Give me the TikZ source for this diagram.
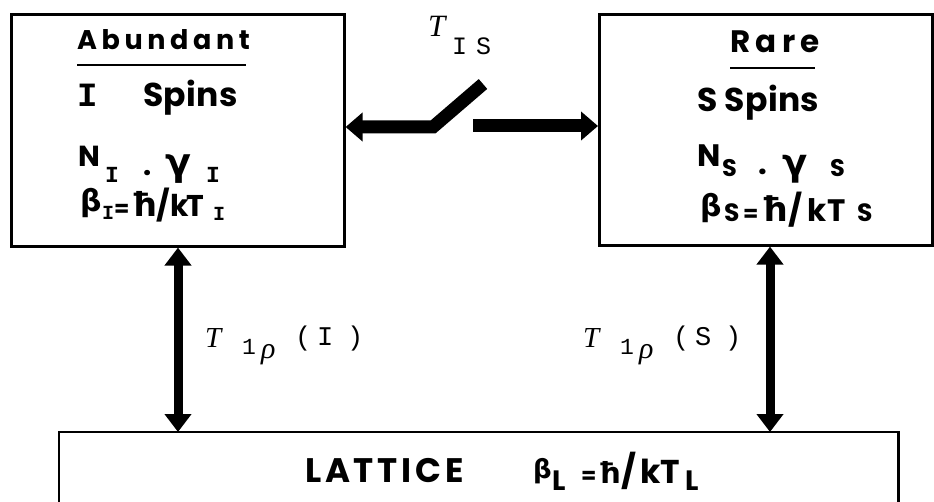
\documentclass[tikz,border=0pt]{standalone}
\usepackage{fontspec}
\newfontfamily\pW[LetterSpace=17]{Poppins}
\newfontfamily\pL[LetterSpace=11]{Poppins}
\newfontfamily\pM[LetterSpace=1]{Poppins}
\newfontfamily\pN{Poppins}
\newfontfamily\grkfont{DejaVu Sans}
\newfontfamily\ttm{Liberation Mono}
\newfontfamily\lsi{Liberation Serif}[UprightFont=* Italic]
\usetikzlibrary{arrows.meta}
\newcommand{\fsz}[1]{\fontsize{#1}{#1}\selectfont}
\newcommand{\gb}{\raisebox{0.19em}{\grkfont β}}
\newcommand{\hb}{{\grkfont ħ}}
\newcommand{\mb}[2]{\makebox[#1pt][l]{#2}}
\begin{document}
\begin{tikzpicture}[x=1pt,y=-1pt,
  box/.style={draw, line width=2.6pt, inner sep=0pt, anchor=north west},
  txt/.style={anchor=base west, inner sep=0pt},
  btxt/.style={anchor=base west, inner sep=0pt, font=\bfseries #1},
  uline/.style={line width=2.4pt},
  dbl/.style={line width=9pt, {Triangle[width=26pt,length=18pt]}-{Triangle[width=26pt,length=18pt]}},
  harr/.style={line width=13pt, -{Triangle[width=28pt,length=17pt]}}
]
\useasboundingbox (0,0) rectangle (934,502);

% boxes
\node[box, minimum width=333pt, minimum height=232pt] (abund) at (10,13) {};
\node[box, minimum width=333pt, minimum height=231pt] (rare) at (598,13) {};
\node[inner sep=0pt, anchor=north west, minimum width=839pt, minimum height=70pt] (lat) at (59,432) {};
\draw[line width=2.6pt] (lat.south west) -- (lat.north west) -- (lat.north east) -- (lat.south east);

% left box text
\node[btxt=\pW\fsz{27}] (ab) at (77,50) {Abundant};
\draw[uline] ([yshift=-15pt]ab.base west) -- ([yshift=-15pt,xshift=-4pt]ab.base east);
\node[btxt=\ttm\fsz{34}] (iI) at (77,107) {I};
\node[btxt=\pM\fsz{33}] (isp) at (143,107) {Spins};
\node[btxt=\pN\fsz{29}] (nI) at (78,167) {\mb{27}{N}\mb{38}{\raisebox{-16pt}{\ttm\fsz{23}I}}\mb{22}{\raisebox{-9pt}{.}}\mb{41}{\raisebox{-9pt}{\grkfont\fsz{38}γ}}\raisebox{-16pt}{\ttm\fsz{23}I}};
\node[btxt=\pN\fsz{30}] (bI) at (80,217) {\mb{22}{\gb}\mb{12}{\raisebox{-3pt}{\ttm\fsz{20}I}}\mb{17}{\fsz{22}=}\mb{25}{\fsz{33}\hb}\mb{14}{/}\mb{16}{k}\mb{27}{T}\raisebox{-4pt}{\ttm\fsz{20}I}};

% right box text
\node[btxt=\pW\fsz{31}, anchor=base] (ra) at (775,53) {Rare};
\draw[uline] ([yshift=-15pt]ra.base west) -- ([yshift=-15pt,xshift=-5pt]ra.base east);
\node[btxt=\pM\fsz{33}] (ssp) at (697,112) {S Spins};
\node[btxt=\pN\fsz{31}] (nS) at (697,167) {\mb{25}{N}\mb{36}{\raisebox{-10pt}{\fsz{24}S}}\mb{24}{\raisebox{-8pt}{.}}\mb{48}{\raisebox{-9pt}{\grkfont\fsz{37}γ}}\raisebox{-10pt}{\fsz{24}S}};
\node[btxt=\pN\fsz{31}] (bS) at (700,222) {\mb{24}{\fsz{30}\gb}\mb{19}{\fsz{25}S}\mb{18}{\fsz{22}=}\mb{27}{\fsz{34}\hb}\mb{19}{/}\mb{20}{k}\mb{30}{T}\fsz{25}S};

% lattice text
\node[btxt=\pL\fsz{34}] (lt) at (305,482) {LATTICE};
\node[btxt=\pN\fsz{33}] (lb) at (533,483) {\mb{19}{\fsz{26}\gb}\mb{29}{\raisebox{-7pt}{\fsz{28}L}}\mb{17}{\fsz{22}=}\mb{23}{\fsz{29}\hb}\mb{19}{/}\mb{20}{k}\mb{25}{T}\raisebox{-7pt}{\fsz{28}L}};

% relaxation labels
\node[txt] (tis) at (428,37) {\mb{24}{\lsi\fsz{31}T}\raisebox{-18pt}{\ttm\fsz{25}\mb{24}{I}S}};
\node[txt] (t1I) at (205,348) {\mb{37}{\lsi\fsz{29}T}\mb{19}{\raisebox{-7pt}{\ttm\fsz{23}1}}\mb{34}{\raisebox{-11pt}{\lsi\fsz{30}ρ}}\raisebox{2pt}{\ttm\fsz{27}\mb{20}{(}\mb{32}{\hspace{2pt}I})}};
\node[txt] (t1S) at (583,348) {\mb{37}{\lsi\fsz{29}T}\mb{19}{\raisebox{-7pt}{\ttm\fsz{23}1}}\mb{34}{\raisebox{-11pt}{\lsi\fsz{30}ρ}}\raisebox{2pt}{\ttm\fsz{27}\mb{20}{(}\mb{32}{\hspace{2pt}S})}};

% vertical double arrows
\coordinate (vI) at (178,0);
\coordinate (vS) at (770,0);
\draw[dbl] (abund.south -| vI) -- (lat.north -| vI);
\draw[dbl] (rare.south -| vS) -- (lat.north -| vS);

% switch and horizontal arrows
\coordinate (blade) at (483,84);
\coordinate (pivot) at (433,127);
\coordinate (rstart) at (473,126);
\draw[harr, line join=miter] (blade) -- (pivot) -- (pivot -| abund.east);
\draw[harr] (rstart) -- (rstart -| rare.west);
\end{tikzpicture}
\end{document}
